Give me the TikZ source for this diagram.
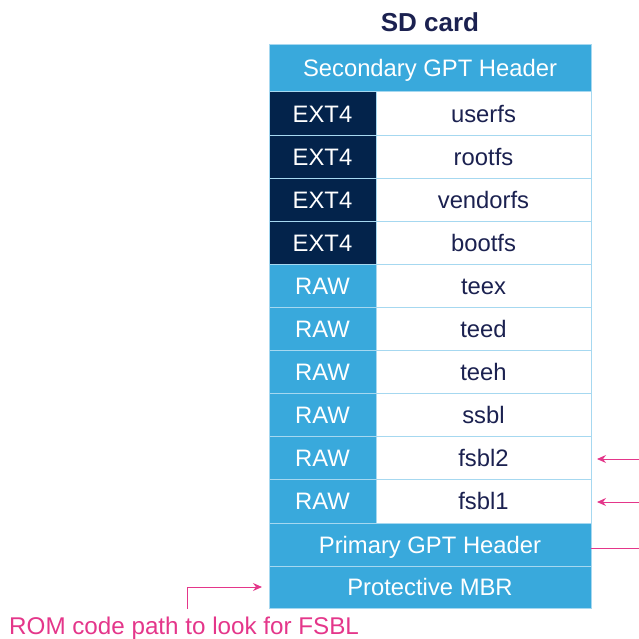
\documentclass[tikz,border=0pt]{standalone}
\usepackage{fontspec}
\setmainfont{Liberation Sans}
\usetikzlibrary{arrows.meta}
\definecolor{stblue}{HTML}{39A9DC}
\definecolor{stnavy}{HTML}{03234B}
\definecolor{lineblue}{HTML}{A6D8F0}
\definecolor{textnavy}{HTML}{1B2150}
\definecolor{stpink}{HTML}{E4368A}
\tikzset{
  cellbox/.style={draw=lineblue, line width=1pt, anchor=north west, inner sep=0pt, outer sep=0pt,
    font=\fontsize{23.8}{26}\selectfont, text height=17pt, text depth=0pt},
  bluecell/.style={cellbox, fill=stblue, text=white},
  navycell/.style={cellbox, fill=stnavy, text=white},
  whitecell/.style={cellbox, fill=white, text=textnavy},
  pinkarrow/.style={draw=stpink, line width=1pt, -{Stealth[length=9pt,width=8pt,inset=3pt]}},
  pinkline/.style={draw=stpink, line width=1pt},
}
\begin{document}
\begin{tikzpicture}[x=1pt,y=-1pt]
\useasboundingbox (0,0) rectangle (639,639);
\node[font=\bfseries\fontsize{26}{28}\selectfont, text=textnavy] (title) at (430,22) {SD card};
\node[bluecell, minimum width=322pt, minimum height=47pt] (sec) at (269,45) {Secondary GPT Header};
\foreach \i/\t/\n/\s in {0/EXT4/userfs/navycell,1/EXT4/rootfs/navycell,2/EXT4/vendorfs/navycell,3/EXT4/bootfs/navycell,
  4/RAW/teex/bluecell,5/RAW/teed/bluecell,6/RAW/teeh/bluecell,7/RAW/ssbl/bluecell,8/RAW/fsbl2/bluecell,9/RAW/fsbl1/bluecell}{
  \node[\s, minimum width=107pt, minimum height=43.1pt] (l\i) at (269,{92+43.1*\i}) {\t};
  \node[whitecell, minimum width=215pt, minimum height=43.1pt] (r\i) at (376,{92+43.1*\i}) {\n};
}
\node[bluecell, minimum width=322pt, minimum height=43pt] (pri) at (269,523) {Primary GPT Header};
\node[bluecell, minimum width=322pt, minimum height=42pt] (pmbr) at (269,566) {Protective MBR};
\node[font=\fontsize{24.2}{26}\selectfont, text=stpink, anchor=west, inner sep=0pt] (rom) at (9,628) {ROM code path to look for FSBL};
% arrows
\coordinate (f2s) at (639,459);
\coordinate (f1s) at (639,502);
\coordinate (pe) at (639,548);
\coordinate (rs) at (187,609);
\draw[pinkarrow] (f2s) -- ([xshift=6pt]r8.east |- f2s);
\draw[pinkarrow] (f1s) -- ([xshift=6pt]r9.east |- f1s);
\draw[pinkline] (pri.east |- pe) -- (pe);
\draw[pinkarrow] (rs) |- ([xshift=-7pt]pmbr.west);
\end{tikzpicture}
\end{document}
